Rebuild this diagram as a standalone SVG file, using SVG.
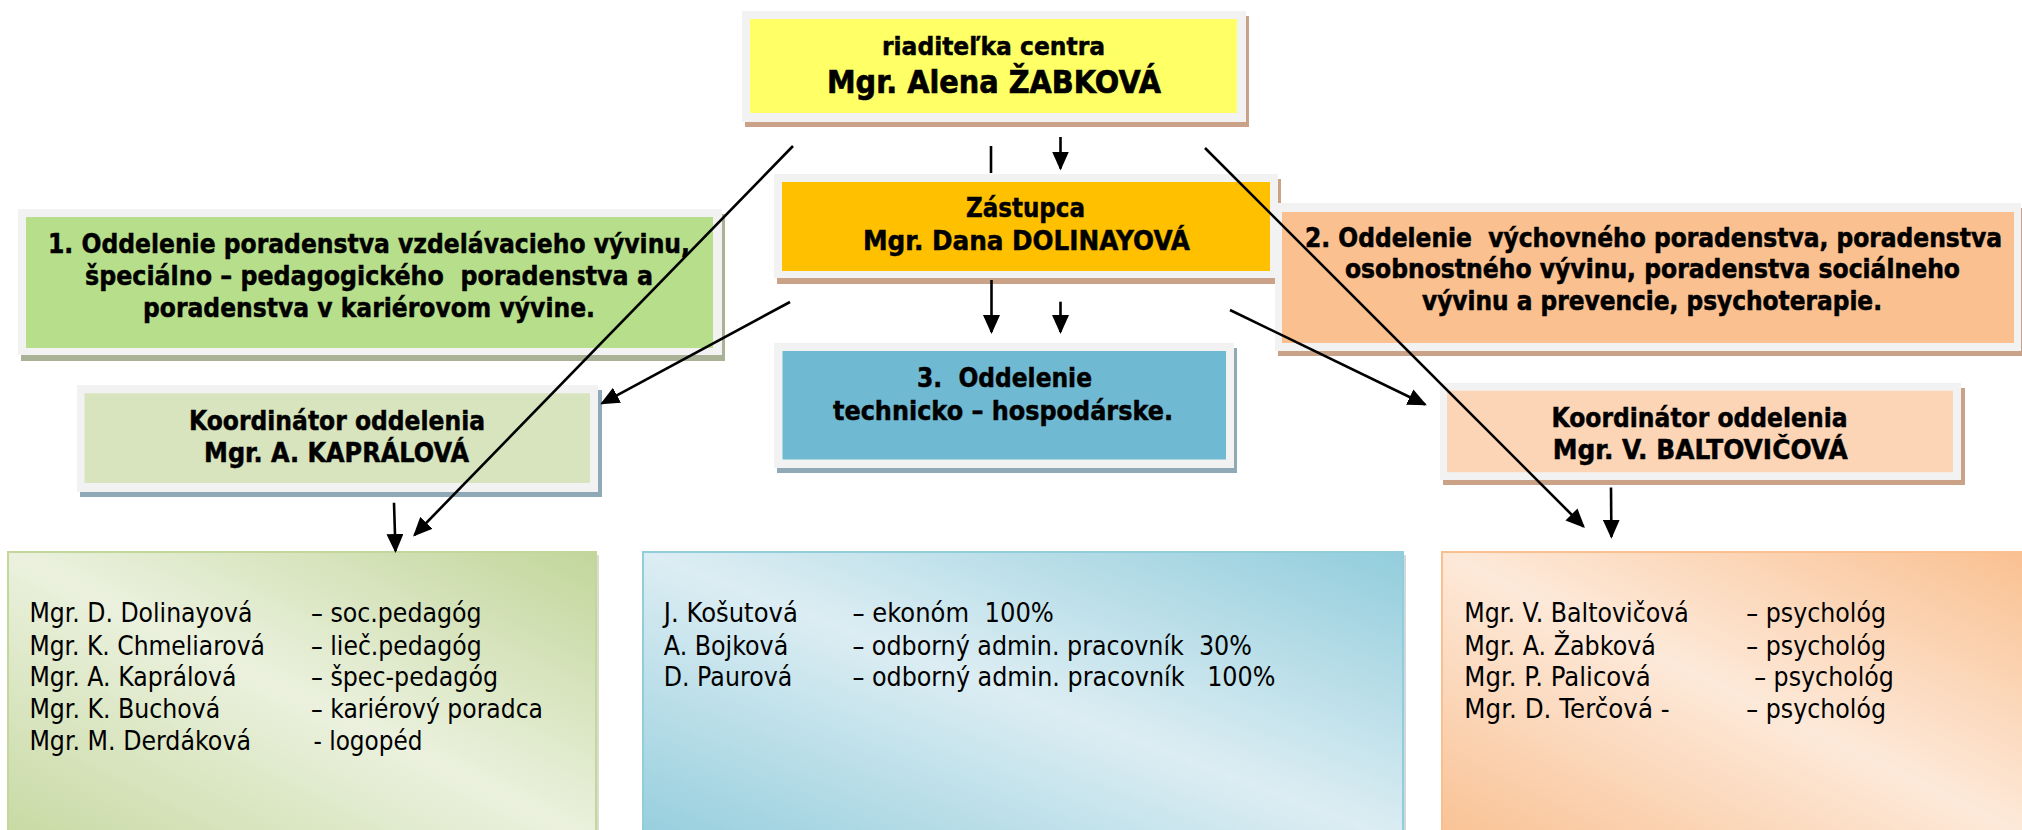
<svg xmlns="http://www.w3.org/2000/svg" width="2022" height="830" viewBox="0 0 2022 830" xml:space="preserve">
<style>
.frame{fill:#f2f2f2}
.shTan{fill:#c9a287}
.shOlive{fill:#a9b196}
.shBlue{fill:#8fa9b6}
text{white-space:pre}
.b{font-family:"DejaVu Sans","Liberation Sans",sans-serif;font-weight:bold;font-size:26px;fill:#000;stroke:#000;stroke-width:0.5px}
.r{font-family:"DejaVu Sans","Liberation Sans",sans-serif;font-size:27px;fill:#000}
.conn line{stroke:#000;stroke-width:2.6;fill:none}
</style>
<defs>
<marker id="ah" markerUnits="userSpaceOnUse" markerWidth="19" markerHeight="17" viewBox="0 0 19 17" refX="17" refY="8.5" orient="auto">
<path d="M0,0 L19,8.5 L0,17 z" fill="#000"/>
</marker>
<linearGradient id="gGreen" x1="1" y1="0" x2="0" y2="1">
<stop offset="0" stop-color="#c2d69b"/>
<stop offset="0.5" stop-color="#ebf1de"/>
<stop offset="1" stop-color="#c7d9a2"/>
</linearGradient>
<linearGradient id="gBlue" x1="1" y1="0" x2="0" y2="1">
<stop offset="0" stop-color="#92cddc"/>
<stop offset="0.5" stop-color="#dcedf3"/>
<stop offset="1" stop-color="#95cedd"/>
</linearGradient>
<linearGradient id="gPeach" x1="1" y1="0" x2="0" y2="1">
<stop offset="0" stop-color="#f9bf8f"/>
<stop offset="0.5" stop-color="#fde9d9"/>
<stop offset="1" stop-color="#f9c193"/>
</linearGradient>
</defs>
<rect width="2022" height="830" fill="#fff"/>

<g id="riaditelka">
<rect class="shTan" x="745" y="16" width="504" height="111"/>
<rect class="frame" x="742" y="11" width="504" height="111"/>
<rect x="750" y="19" width="487" height="94" fill="#ffff66"/>
<text class="b" style="font-size:25px" x="882" y="54.5" textLength="223" lengthAdjust="spacingAndGlyphs">riaditeľka centra</text>
<text class="b" style="font-size:32px;stroke-width:0.7px" x="827" y="92.7" textLength="334" lengthAdjust="spacingAndGlyphs">Mgr. Alena ŽABKOVÁ</text>
</g>

<g id="zastupca">
<rect class="shTan" x="777" y="179" width="504" height="105"/>
<rect class="frame" x="774" y="174" width="504" height="104"/>
<rect x="782" y="182" width="488" height="89" fill="#ffc000"/>
<text class="b" x="966" y="217.3" textLength="119" lengthAdjust="spacingAndGlyphs">Zástupca</text>
<text class="b" x="863" y="250" textLength="327" lengthAdjust="spacingAndGlyphs">Mgr. Dana DOLINAYOVÁ</text>
</g>

<g id="oddelenie1">
<rect class="shOlive" x="21" y="214" width="704" height="147"/>
<rect class="frame" x="18" y="209" width="704" height="146"/>
<rect x="26" y="217" width="687" height="131" fill="#b7de8a"/>
<text class="b" x="48" y="253" textLength="642" lengthAdjust="spacingAndGlyphs">1. Oddelenie poradenstva vzdelávacieho vývinu,</text>
<text class="b" x="85" y="285" textLength="568" lengthAdjust="spacingAndGlyphs">špeciálno – pedagogického  poradenstva a</text>
<text class="b" x="143" y="316.7" textLength="452" lengthAdjust="spacingAndGlyphs">poradenstva v kariérovom vývine.</text>
</g>

<g id="oddelenie2">
<rect class="shTan" x="1278" y="208" width="744" height="148"/>
<rect class="frame" x="1275" y="203" width="746" height="148"/>
<rect x="1282" y="212" width="732" height="131" fill="#fac090"/>
<text class="b" style="font-size:22px" transform="matrix(1,0,0,1.17,0,-41.94)" x="1305" y="246.7" textLength="697" lengthAdjust="spacingAndGlyphs">2. Oddelenie  výchovného poradenstva, poradenstva</text>
<text class="b" style="font-size:22px" transform="matrix(1,0,0,1.17,0,-47.31)" x="1345" y="278.3" textLength="615" lengthAdjust="spacingAndGlyphs">osobnostného vývinu, poradenstva sociálneho</text>
<text class="b" style="font-size:22px" transform="matrix(1,0,0,1.17,0,-52.7)" x="1422" y="310" textLength="460" lengthAdjust="spacingAndGlyphs">vývinu a prevencie, psychoterapie.</text>
</g>

<g id="oddelenie3">
<rect class="shBlue" x="777" y="348" width="460" height="125"/>
<rect class="frame" x="774" y="343" width="460" height="125"/>
<rect x="782.5" y="351" width="443.5" height="108.5" fill="#6fbad2"/>
<text class="b" x="917" y="387.3" textLength="175" lengthAdjust="spacingAndGlyphs">3.  Oddelenie</text>
<text class="b" x="833" y="420" textLength="340" lengthAdjust="spacingAndGlyphs">technicko – hospodárske.</text>
</g>

<g id="koordinator1">
<rect class="shBlue" x="80" y="390" width="522" height="107"/>
<rect class="frame" x="77" y="385" width="521" height="107"/>
<rect x="84.5" y="393.3" width="505.5" height="89.7" fill="#d7e4bd"/>
<text class="b" x="189" y="430" textLength="296" lengthAdjust="spacingAndGlyphs">Koordinátor oddelenia</text>
<text class="b" x="204" y="461.7" textLength="265" lengthAdjust="spacingAndGlyphs">Mgr. A. KAPRÁLOVÁ</text>
</g>

<g id="koordinator2">
<rect class="shTan" x="1443" y="388" width="522" height="97"/>
<rect class="frame" x="1440" y="383" width="521" height="97"/>
<rect x="1447" y="390.7" width="506" height="81.5" fill="#fbd5b5"/>
<text class="b" x="1551.5" y="427.3" textLength="296" lengthAdjust="spacingAndGlyphs">Koordinátor oddelenia</text>
<text class="b" x="1552.7" y="459.3" textLength="295" lengthAdjust="spacingAndGlyphs">Mgr. V. BALTOVIČOVÁ</text>
</g>

<g id="tim1">
<rect x="11" y="555" width="588" height="290" fill="#d9dccf"/>
<rect x="8" y="552" width="588" height="290" fill="url(#gGreen)" stroke="#c3d69b" stroke-width="2"/>
<text class="r" x="29.4" y="622" textLength="223" lengthAdjust="spacingAndGlyphs">Mgr. D. Dolinayová</text>
<text class="r" x="311" y="622" textLength="170.6" lengthAdjust="spacingAndGlyphs">– soc.pedagóg</text>
<text class="r" x="29.4" y="654.5" textLength="235.6" lengthAdjust="spacingAndGlyphs">Mgr. K. Chmeliarová</text>
<text class="r" x="311" y="654.5" textLength="170.6" lengthAdjust="spacingAndGlyphs">– lieč.pedagóg</text>
<text class="r" x="29.4" y="686" textLength="207" lengthAdjust="spacingAndGlyphs">Mgr. A. Kaprálová</text>
<text class="r" x="311" y="686" textLength="187" lengthAdjust="spacingAndGlyphs">– špec-pedagóg</text>
<text class="r" x="29.4" y="718" textLength="191" lengthAdjust="spacingAndGlyphs">Mgr. K. Buchová</text>
<text class="r" x="311" y="718" textLength="232" lengthAdjust="spacingAndGlyphs">– kariérový poradca</text>
<text class="r" x="29.4" y="750" textLength="221.6" lengthAdjust="spacingAndGlyphs">Mgr. M. Derdáková</text>
<text class="r" x="313.5" y="750" textLength="109" lengthAdjust="spacingAndGlyphs">- logopéd</text>
</g>

<g id="tim3">
<rect x="646" y="555" width="760" height="290" fill="#cfd9dc"/>
<rect x="643" y="552" width="760" height="290" fill="url(#gBlue)" stroke="#92cddc" stroke-width="2"/>
<text class="r" x="663.8" y="622" textLength="134" lengthAdjust="spacingAndGlyphs">J. Košutová</text>
<text class="r" x="852.4" y="622" textLength="201.5" lengthAdjust="spacingAndGlyphs">– ekonóm  100%</text>
<text class="r" x="663.8" y="654.5" textLength="124.4" lengthAdjust="spacingAndGlyphs">A. Bojková</text>
<text class="r" x="852.4" y="654.5" textLength="399.5" lengthAdjust="spacingAndGlyphs">– odborný admin. pracovník  30%</text>
<text class="r" x="663.8" y="686" textLength="128.4" lengthAdjust="spacingAndGlyphs">D. Paurová</text>
<text class="r" x="852.4" y="686" textLength="423" lengthAdjust="spacingAndGlyphs">– odborný admin. pracovník   100%</text>
</g>

<g id="tim2">
<rect x="1442" y="552" width="600" height="290" fill="url(#gPeach)" stroke="#f9bf8f" stroke-width="2"/>
<text class="r" x="1464.3" y="622" textLength="224.5" lengthAdjust="spacingAndGlyphs">Mgr. V. Baltovičová</text>
<text class="r" x="1746.3" y="622" textLength="139.7" lengthAdjust="spacingAndGlyphs">– psychológ</text>
<text class="r" x="1464.3" y="654.5" textLength="191.6" lengthAdjust="spacingAndGlyphs">Mgr. A. Žabková</text>
<text class="r" x="1746.3" y="654.5" textLength="139.7" lengthAdjust="spacingAndGlyphs">– psychológ</text>
<text class="r" x="1464.3" y="686" textLength="186.4" lengthAdjust="spacingAndGlyphs">Mgr. P. Palicová</text>
<text class="r" x="1754.2" y="686" textLength="139.7" lengthAdjust="spacingAndGlyphs">– psychológ</text>
<text class="r" x="1464.3" y="718.3" textLength="205.4" lengthAdjust="spacingAndGlyphs">Mgr. D. Terčová -</text>
<text class="r" x="1746.3" y="718.3" textLength="139.7" lengthAdjust="spacingAndGlyphs">– psychológ</text>
</g>

<g id="connectors" class="conn">
<line x1="991" y1="146" x2="991" y2="173"/>
<line x1="1060.5" y1="137" x2="1060.5" y2="168.5" marker-end="url(#ah)"/>
<line x1="991.5" y1="280" x2="991.5" y2="332" marker-end="url(#ah)"/>
<line x1="1060.5" y1="301.7" x2="1060.5" y2="332" marker-end="url(#ah)"/>
<line x1="793" y1="146" x2="414.5" y2="535" marker-end="url(#ah)"/>
<line x1="790" y1="302" x2="602" y2="403.3" marker-end="url(#ah)"/>
<line x1="1205" y1="148" x2="1583.5" y2="526.5" marker-end="url(#ah)"/>
<line x1="1230" y1="310" x2="1425" y2="404.5" marker-end="url(#ah)"/>
<line x1="394" y1="502.7" x2="395.5" y2="551" marker-end="url(#ah)"/>
<line x1="1611" y1="487.5" x2="1611.4" y2="536.7" marker-end="url(#ah)"/>
</g>
</svg>
